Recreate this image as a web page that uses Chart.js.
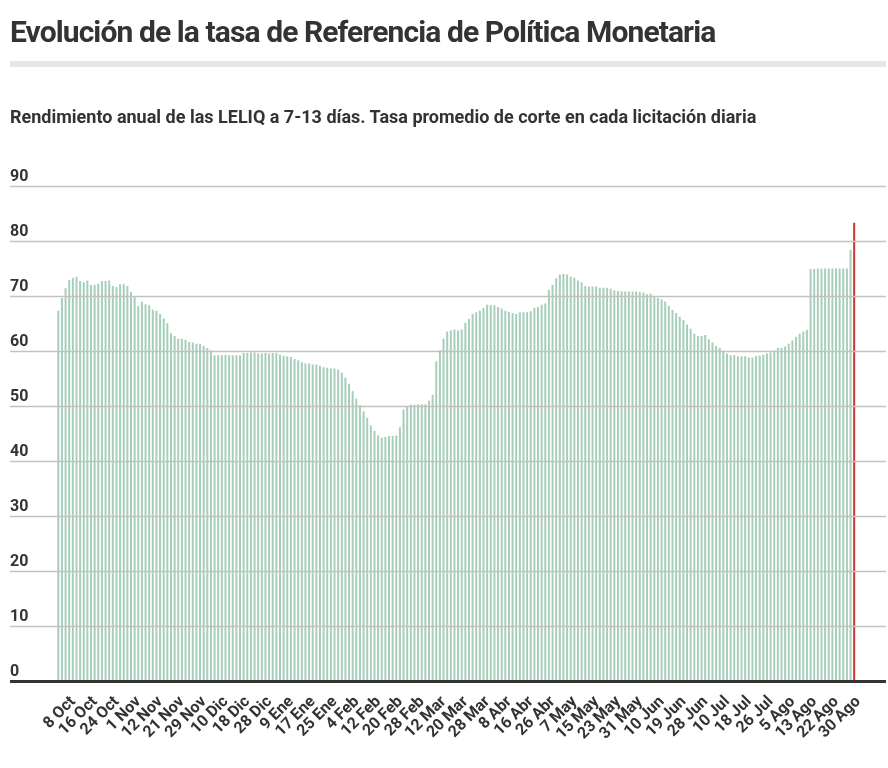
<!DOCTYPE html>
<html lang="es">

<head>
    <meta charset="UTF-8">
    <title>Tasa de Política Monetaria</title>
    <style>
        body { margin: 0; background: #fff; font-family: Roboto, sans-serif; color: #333; }
        .wrap { position: relative; width: 888px; height: 768px; }
        h1 { position: absolute; left: 10px; top: 14px; margin: 0; font-size: 30px; font-weight: 700; letter-spacing: -0.9px; white-space: nowrap; }
        .band { position: absolute; left: 10px; top: 61px; width: 876px; height: 6px; background: #e6e6e6; }
        h2 { position: absolute; left: 10px; top: 106px; margin: 0; font-size: 18px; font-weight: 700; white-space: nowrap; }
        canvas { position: absolute; left: 0; top: 0; }
    </style>
</head>

<body>
    <div class="wrap">
        <canvas id="chart" width="888" height="768"></canvas>
        <h1>Evolución de la tasa de Referencia de Política Monetaria</h1>
        <div class="band"></div>
        <h2>Rendimiento anual de las LELIQ a 7-13 días. Tasa promedio de corte en cada licitación diaria</h2>
    </div>

    <script src="https://cdn.jsdelivr.net/npm/chart.js@4"></script>
    <script>
        // tasa promedio de corte, una licitación por día hábil (oct 2018 - ago 2019)
        const rates = [
            67.3, 69.6, 71.4, 72.9, 73.3, 73.5, 72.7, 72.5, 72.8, 72.0,
            72.0, 72.2, 72.7, 72.7, 72.8, 71.8, 71.6, 72.1, 72.1, 71.8,
            70.7, 69.9, 68.1, 69.0, 68.5, 68.3, 67.5, 67.3, 66.7, 65.9,
            65.0, 63.2, 62.7, 62.2, 62.2, 62.0, 61.6, 61.5, 61.3, 61.3,
            60.9, 60.5, 60.1, 59.2, 59.2, 59.2, 59.3, 59.2, 59.2, 59.2,
            59.2, 59.6, 59.6, 59.7, 59.7, 59.5, 59.5, 59.6, 59.5, 59.6,
            59.6, 59.3, 59.1, 59.0, 58.9, 58.5, 58.3, 57.9, 57.7, 57.7,
            57.5, 57.5, 57.3, 57.0, 56.9, 56.8, 56.8, 56.6, 56.0, 55.1,
            54.0, 52.7, 51.3, 50.1, 49.0, 47.8, 46.4, 45.4, 44.6, 44.2,
            44.3, 44.5, 44.5, 44.6, 46.1, 49.3, 49.8, 50.2, 50.2, 50.3,
            50.3, 50.3, 50.9, 52.0, 58.1, 60.1, 62.2, 63.5, 63.7, 63.9,
            63.7, 63.9, 65.1, 65.8, 66.7, 67.0, 67.3, 67.8, 68.4, 68.3,
            68.3, 68.0, 67.7, 67.3, 67.1, 66.9, 66.7, 67.0, 67.0, 67.0,
            67.2, 67.8, 68.0, 68.4, 68.6, 71.1, 72.0, 73.2, 73.9, 74.0,
            73.9, 73.5, 73.3, 72.8, 72.5, 71.8, 71.7, 71.7, 71.7, 71.5,
            71.5, 71.5, 71.3, 71.0, 70.9, 70.8, 70.8, 70.8, 70.8, 70.8,
            70.7, 70.6, 70.3, 70.4, 70.0, 69.6, 69.4, 69.0, 68.2, 67.5,
            66.9, 66.2, 65.6, 64.8, 64.0, 63.1, 62.7, 62.7, 62.9, 62.1,
            61.5, 60.9, 60.5, 60.0, 59.5, 59.2, 59.2, 59.0, 59.0, 59.0,
            58.8, 58.8, 59.0, 59.1, 59.3, 59.5, 59.7, 60.1, 60.5, 60.5,
            60.8, 61.3, 61.9, 62.5, 63.1, 63.5, 63.8, 74.9, 74.9, 75.0,
            75.0, 75.0, 75.0, 75.0, 75.0, 75.0, 75.0, 75.0, 78.4, 83.3
        ];
        // fechas rotuladas en el eje (cada 6 licitaciones)
        const tickLabels = ['8 Oct', '16 Oct', '24 Oct', '1 Nov', '12 Nov', '21 Nov', '29 Nov',
            '10 Dic', '18 Dic', '28 Dic', '9 Ene', '17 Ene', '25 Ene', '4 Feb', '12 Feb', '20 Feb',
            '28 Feb', '12 Mar', '20 Mar', '28 Mar', '8 Abr', '16 Abr', '26 Abr', '7 May', '15 May',
            '23 May', '31 May', '10 Jun', '19 Jun', '28 Jun', '10 Jul', '18 Jul', '26 Jul', '5 Ago',
            '13 Ago', '22 Ago', '30 Ago'];
        const firstTick = 3;
        const tickStep = 6;
        const yTicks = [0, 10, 20, 30, 40, 50, 60, 70, 80, 90];

        const labels = rates.map((v, i) => {
            let k = (i - firstTick) / tickStep;
            return Number.isInteger(k) && k >= 0 ? tickLabels[k] : '';
        });

        // lineas horizontales a todo el ancho, por encima de las barras
        const fullGrid = {
            id: 'fullGrid',
            afterDatasetsDraw(chart) {
                const c = chart.ctx;
                const y = chart.scales.y;
                c.save();
                yTicks.forEach(v => {
                    let py = Math.round(y.getPixelForValue(v)) + 0.5;
                    c.beginPath();
                    c.strokeStyle = v === 0 ? '#333' : '#c2c2c2';
                    c.lineWidth = v === 0 ? 3 : 1.6;
                    c.moveTo(10, py);
                    c.lineTo(886, py);
                    c.stroke();
                    c.fillStyle = '#333';
                    c.font = 'bold 16px Roboto';
                    c.textBaseline = 'alphabetic';
                    c.fillText(String(v), 10, py - 6);
                });
                c.restore();
            }
        };

        let ctx = document.getElementById('chart');
        var chart = new Chart(ctx, {
            type: 'bar',
            data: {
                labels: labels,
                datasets: [{
                    data: rates,
                    backgroundColor: c => c.dataIndex === rates.length - 1 ? '#cc3333' : 'rgba(150,198,174,0.85)',
                    borderWidth: 0,
                    barPercentage: 0.55,
                    categoryPercentage: 1
                }]
            },
            options: {
                responsive: false,
                animation: false,
                layout: { padding: { left: 56.5, right: 32, top: 186, bottom: 0 } },
                plugins: { legend: { display: false }, tooltip: { enabled: false } },
                scales: {
                    y: { display: false, min: 0, max: 90 },
                    x: {
                        grid: { display: false },
                        border: { display: false },
                        afterFit: s => { s.height = 87.5; },
                        ticks: {
                            autoSkip: false,
                            maxRotation: 45,
                            minRotation: 45,
                            padding: 4,
                            labelOffset: 4,
                            color: '#333',
                            font: { family: 'Roboto', size: 16, weight: 'bold' }
                        }
                    }
                }
            },
            plugins: [fullGrid]
        });
    </script>
</body>

</html>
